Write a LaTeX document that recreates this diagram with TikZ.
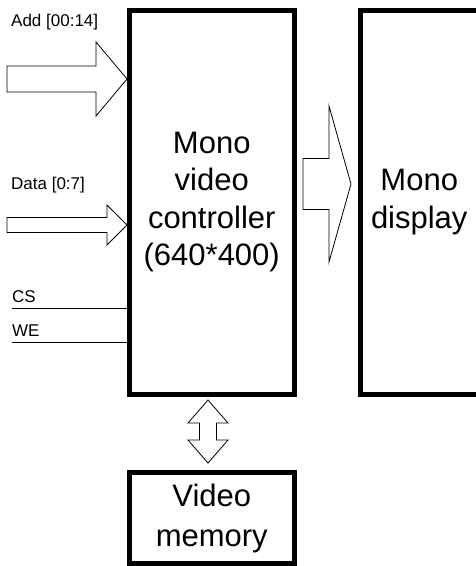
\documentclass[tikz,border=0pt]{standalone}
\usepackage{fontspec}
\setmainfont{Liberation Sans}
\usetikzlibrary{positioning, calc}

\begin{document}
\begin{tikzpicture}[
  x=1pt, y=-1pt,
  box/.style={rectangle, draw, line width=5pt, inner sep=0pt, align=center,
    font=\fontsize{31}{37.5}\selectfont},
  lbl/.style={anchor=west, inner sep=0pt, font=\fontsize{17}{20}\selectfont},
  blk/.style={draw, line width=0.8pt, fill=white, line join=miter},
  sig/.style={line width=0.9pt}
]
\useasboundingbox (0,0) rectangle (476,566);

\node[box, minimum width=164.5pt, minimum height=383.5pt] (ctrl) at (211.75,202.25)
  {Mono\\video\\controller\\(640*400)};
\node[box, minimum width=118.5pt, minimum height=383.5pt] (disp) at (419.25,202.25)
  {Mono\\display};
\node[box, minimum width=164.5pt, minimum height=91pt,
  font=\fontsize{31}{40}\selectfont] (mem) at (211.75,518) {Video\\memory};

\node[lbl] (add) at (11,22) {Add [00:14]};
\node[lbl] (data) at (11,185) {Data [0:7]};
\node[lbl] (cs) at (12,297) {CS};
\node[lbl] (we) at (12,331) {WE};

% block arrows
\coordinate (addtip) at (ctrl.west |- 0,79);
\coordinate (datatip) at (ctrl.west |- 0,225);
\coordinate (outtip) at (351,184);
\coordinate (bustop) at (208,400);

\draw[blk] (addtip) -- ++(-31,-37) -- ++(0,24) -- ++(-89,0) -- ++(0,26)
  -- ++(89,0) -- ++(0,24) -- cycle;
\draw[blk] (datatip) -- ++(-20,-20) -- ++(0,12.5) -- ++(-100,0) -- ++(0,15)
  -- ++(100,0) -- ++(0,12.5) -- cycle;
\draw[blk] (outtip) -- ++(-22,-78) -- ++(0,52.5) -- ++(-26,0) -- ++(0,51)
  -- ++(26,0) -- ++(0,52.5) -- cycle;
\draw[blk] (bustop) -- ++(20,23) -- ++(-11.5,0) -- ++(0,17) -- ++(11.5,0)
  -- ++(-20,23) -- ++(-20,-23) -- ++(11.5,0) -- ++(0,-17) -- ++(-11.5,0) -- cycle;

% control lines
\coordinate (csl) at (12,308);
\coordinate (wel) at (12,342);
\draw[sig] (csl) -- (csl -| ctrl.west);
\draw[sig] (wel) -- (wel -| ctrl.west);
\end{tikzpicture}
\end{document}
